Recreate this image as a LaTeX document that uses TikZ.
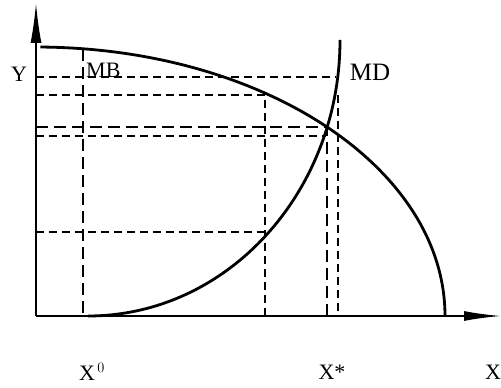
\documentclass[tikz,border=0pt]{standalone}
\usepackage{fontspec}
\setmainfont{Liberation Serif}
\usetikzlibrary{arrows.meta}

\begin{document}
\begin{tikzpicture}[
            x=1pt, y=1pt,
            axis/.style={line width=1.8pt},
            curve/.style={line width=2.8pt},
            thin dash/.style={line width=1.1pt, dash pattern=on 8pt off 5pt},
            thick dash/.style={line width=2.8pt, dash pattern=on 12pt off 6pt},
            lab/.style={inner sep=0pt, font=\fontsize{22}{26}\selectfont}
        ]
            \useasboundingbox (0,0) rectangle (501,388);

            % --- EIXOS ---
            \coordinate (O) at (36,72);
            \coordinate (ytop) at (36,385);
            \coordinate (xend) at (501,72);
            \draw[axis, -{Latex[length=40pt, width=11pt]}] (O) -- (ytop);
            \draw[axis, -{Latex[length=37pt, width=10pt]}] (O) -- (xend);

            % --- CURVAS ---
            % MB: quarto de elipse centrado na origem
            \draw[curve] (O) ++(89.4:409 and 269) coordinate (mbstart)
                arc[start angle=89.4, end angle=0, x radius=409, y radius=269];
            % MD: quarto de elipse convexo
            \draw[curve] (88,72) coordinate (mdstart)
                arc[start angle=-90, end angle=0, x radius=252, y radius=276];

            \coordinate (E) at (327,261);

            % --- LINHAS AUXILIARES ---
            \draw[thin dash] (36,311) -- (336,311);
            \draw[thin dash] (36,293) -- (265,293) -- (265,72);
            \draw[thin dash] (36,252) -- (326,252);
            \draw[thin dash] (36,156) -- (265,156);
            \draw[thin dash] (338,293) -- (338,72);

            \draw[thick dash] (36,261) -- (E) -- (327,72);
            \draw[thick dash] (83,339) -- (83,72);

            % --- RÓTULOS ---
            \node[lab] (ylab) at (19,314) {Y};
            \node[lab, anchor=west] (mblab) at (86,318) {MB};
            \node[lab, font=\fontsize{25}{29}\selectfont] (mdlab) at (370,316) {MD};
            \node[lab] (x0lab) at (92,16) {X$^{\,0}$};
            \node[lab] (xstarlab) at (332,16) {X*};
            \node[lab, anchor=west] (xlab) at (485,16) {X};

        \end{tikzpicture}
\end{document}
